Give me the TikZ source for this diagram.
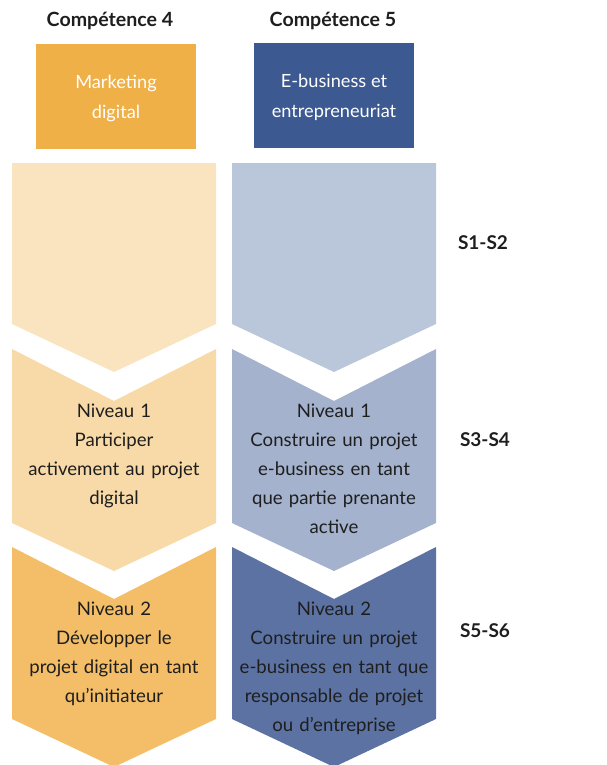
\documentclass[tikz,border=0pt]{standalone}
\usepackage{fontspec}
\setmainfont{Lato}
\usetikzlibrary{positioning}

\definecolor{orangeHead}{HTML}{F0B048}
\definecolor{orangeA}{HTML}{FAE4C0}
\definecolor{orangeB}{HTML}{F7DAA8}
\definecolor{orangeC}{HTML}{F3BE67}
\definecolor{blueHead}{HTML}{3C5A91}
\definecolor{blueA}{HTML}{BAC6D9}
\definecolor{blueB}{HTML}{A4B2CD}
\definecolor{blueC}{HTML}{5B72A2}
\definecolor{inkText}{HTML}{1E1E1E}

\begin{document}
\begin{tikzpicture}[x=1pt, y=-1pt,
	title/.style={font=\fontsize{19.6}{23}\selectfont\bfseries, text=inkText},
	headbox/.style={minimum width=160pt, minimum height=105pt, inner sep=0pt, align=center,
		text=white, font=\fontsize{18.2}{30}\selectfont},
	level/.style={anchor=north, inner sep=0pt, align=center, text width=200pt,
		text=inkText, font=\fontsize{18.6}{29}\selectfont},
	semester/.style={font=\fontsize{19}{22}\selectfont\bfseries, text=inkText}]

	\useasboundingbox (0,0) rectangle (607,765);

	%declare constants
	\def\lA{12}
	\def\rA{216}
	\def\mA{114}
	\def\lB{232}
	\def\rB{436}
	\def\mB{334}
	\def\tip{48}
	\def\notch{52}

	%column headers
	\node[title] (compA) at (110,21) {Compétence 4};
	\node[title] (compB) at (333,21) {Compétence 5};
	\fill[orangeHead] (36,44) rectangle (196,149);
	\fill[blueHead] (254,43) rectangle (414,148);
	\node[headbox] (headA) at (116,98) {Marketing\\digital};
	\node[headbox] (headB) at (334,97) {E-business et\\entrepreneuriat};

	%first row, flat top
	\fill[orangeA] (\lA,163) -- (\rA,163) -- (\rA,324) -- (\mA,{324+\tip}) -- (\lA,324) -- cycle;
	\fill[blueA] (\lB,163) -- (\rB,163) -- (\rB,324) -- (\mB,{324+\tip}) -- (\lB,324) -- cycle;

	%second row
	\fill[orangeB] (\lA,349) -- (\mA,{349+\notch}) -- (\rA,349) -- (\rA,523) -- (\mA,{523+\tip}) -- (\lA,523) -- cycle;
	\fill[blueB] (\lB,349) -- (\mB,{349+\notch}) -- (\rB,349) -- (\rB,523) -- (\mB,{523+\tip}) -- (\lB,523) -- cycle;

	%third row, point runs to the bottom edge
	\fill[orangeC] (\lA,547) -- (\mA,{547+\notch}) -- (\rA,547) -- (\rA,719) -- (\mA,{719+\tip}) -- (\lA,719) -- cycle;
	\fill[blueC] (\lB,547) -- (\mB,{547+\notch}) -- (\rB,547) -- (\rB,719) -- (\mB,{719+\tip}) -- (\lB,719) -- cycle;

	%level texts
	\node[level] (nivA1) at (\mA,404) {Niveau 1\\Participer\\activement au projet\\digital};
	\node[level] (nivB1) at (\mB,404) {Niveau 1\\Construire un projet\\e-business en tant\\que partie prenante\\active};
	\node[level] (nivA2) at (\mA,602) {Niveau 2\\Développer le\\projet digital en tant\\qu’initiateur};
	\node[level] (nivB2) at (\mB,602) {Niveau 2\\Construire un projet\\e-business en tant que\\responsable de projet\\ou d’entreprise};

	%semesters
	\node[semester] (semA) at (483,243) {S1-S2};
	\node[semester] (semB) at (485,440) {S3-S4};
	\node[semester] (semC) at (485,631) {S5-S6};

\end{tikzpicture}
\end{document}
